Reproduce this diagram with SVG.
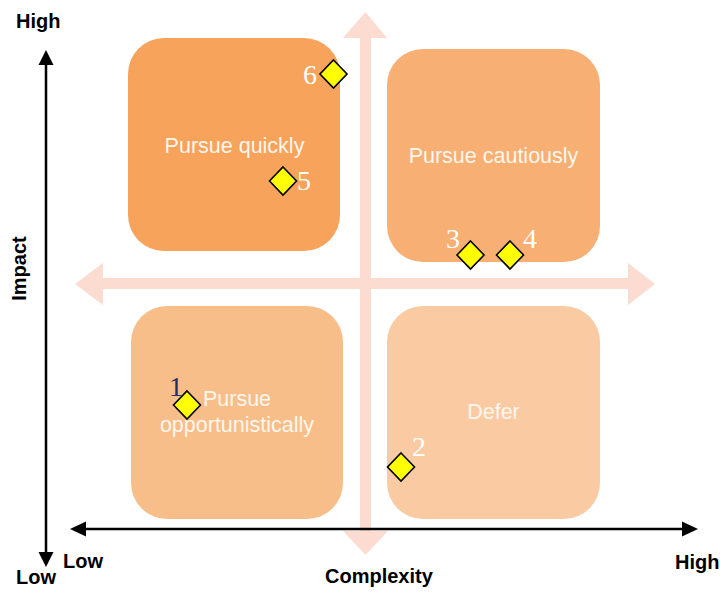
<svg xmlns="http://www.w3.org/2000/svg" width="720" height="592" viewBox="0 0 720 592">
<style>
.box text{font-family:"Liberation Sans",Arial,sans-serif;font-size:21.5px;fill:#FFF6EC;text-anchor:middle}
.axis{font-family:"Liberation Sans",Arial,sans-serif;font-size:20px;font-weight:bold;fill:#000}
.pale{fill:#FCDCD0}
.dia{fill:#FFFF00;stroke:#000;stroke-width:1.6;stroke-linejoin:miter}
.num{font-family:"Liberation Serif","Times New Roman",serif;font-size:28px;fill:#FFFFFF}
.ax{stroke:#000;stroke-width:2.5;fill:none}
</style>
<rect width="720" height="592" fill="#FFFFFF"/>
<g id="connectors">
  <polygon class="pale" points="365.5,12 387,38 371,38 371,531 388,531 365.5,555 343,531 360,531 360,38 343,38"/>
  <polygon class="pale" points="75,284 103,263 103,278 628,278 628,263 655,284 628,305 628,289 103,289 103,305"/>
  <line class="ax" x1="46" y1="63" x2="46" y2="554"/>
  <polygon points="46,50 38.5,65 53.5,65" fill="#000"/>
  <polygon points="46,567 38.5,552 53.5,552" fill="#000"/>
  <line class="ax" x1="84" y1="529" x2="684" y2="529"/>
  <polygon points="70,529 86,521.5 86,536.5" fill="#000"/>
  <polygon points="698,529 682,521.5 682,536.5" fill="#000"/>
</g>
<g id="labels">
  <text class="axis" x="16" y="28">High</text>
  <text class="axis" x="16" y="584">Low</text>
  <text class="axis" x="63" y="568">Low</text>
  <text class="axis" x="325" y="583">Complexity</text>
  <text class="axis" x="675" y="569">High</text>
  <text class="axis" transform="translate(26,268.5) rotate(-90)" text-anchor="middle">Impact</text>
</g>
<g id="q-pursue-quickly" class="box">
  <rect x="128" y="38" width="212" height="213" rx="36" fill="#F7A35C"/>
  <text x="234.5" y="153">Pursue quickly</text>
</g>
<g id="q-pursue-cautiously" class="box">
  <rect x="387" y="49" width="213" height="213" rx="36" fill="#F7AF74"/>
  <text x="493.5" y="163">Pursue cautiously</text>
</g>
<g id="q-pursue-opportunistically" class="box">
  <rect x="131" y="306" width="212" height="213" rx="36" fill="#F8BE8A"/>
  <text x="237" y="406">Pursue</text>
  <text x="237" y="432">opportunistically</text>
</g>
<g id="q-defer" class="box">
  <rect x="387" y="306" width="213" height="213" rx="36" fill="#FACBA3"/>
  <text x="493.5" y="419">Defer</text>
</g>
<g id="item-1">
  <polygon class="dia" points="187,391 200.5,405 187,419 173.5,405"/>
  <text class="num" x="169" y="396" fill="#1F2D6B" style="fill:#1F2D6B">1</text>
</g>
<g id="item-2">
  <polygon class="dia" points="401,453 414.5,467 401,481 387.5,467"/>
  <text class="num" x="412" y="456">2</text>
</g>
<g id="item-3">
  <polygon class="dia" points="470.5,241 484,255 470.5,269 457,255"/>
  <text class="num" x="446" y="248">3</text>
</g>
<g id="item-4">
  <polygon class="dia" points="510,241 523.5,255 510,269 496.5,255"/>
  <text class="num" x="523" y="248">4</text>
</g>
<g id="item-5">
  <polygon class="dia" points="283,167 296.5,181 283,195 269.5,181"/>
  <text class="num" x="297" y="190">5</text>
</g>
<g id="item-6">
  <polygon class="dia" points="333.5,60 347,74 333.5,88 320,74"/>
  <text class="num" x="303" y="84">6</text>
</g>
</svg>
